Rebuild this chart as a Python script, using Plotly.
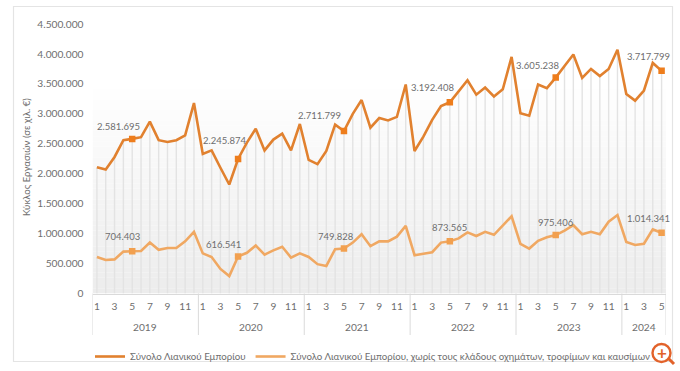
import plotly.graph_objects as go

W, H = 680, 371
FONT = "Lato"
TXT = "#6e6e6e"

years = [2019, 2020, 2021, 2022, 2023, 2024]
months_per_year = [12, 12, 12, 12, 12, 5]
categories = [f"{y}-{m}" for y, n in zip(years, months_per_year) for m in range(1, n + 1)]
month_labels = [c.split("-")[1] for c in categories]

total_retail = [
    2110000, 2070000, 2280000, 2560000, 2581695, 2610000, 2870000, 2560000, 2530000, 2560000, 2640000, 3180000,
    2330000, 2390000, 2100000, 1820000, 2245874, 2520000, 2750000, 2390000, 2570000, 2670000, 2390000, 2830000,
    2230000, 2160000, 2380000, 2820000, 2711799, 3000000, 3230000, 2770000, 2930000, 2890000, 2950000, 3490000,
    2380000, 2620000, 2900000, 3130000, 3192408, 3370000, 3560000, 3320000, 3440000, 3290000, 3410000, 3950000,
    3010000, 2970000, 3490000, 3430000, 3605238, 3800000, 3990000, 3600000, 3750000, 3630000, 3750000, 4070000,
    3330000, 3220000, 3390000, 3850000, 3717799,
]
core_retail = [
    610000, 560000, 570000, 700000, 704403, 710000, 850000, 730000, 760000, 760000, 870000, 1030000,
    670000, 610000, 410000, 290000, 616541, 680000, 800000, 650000, 720000, 780000, 600000, 670000,
    610000, 490000, 460000, 740000, 749828, 850000, 990000, 790000, 870000, 870000, 950000, 1130000,
    640000, 660000, 690000, 850000, 873565, 920000, 1020000, 960000, 1030000, 980000, 1130000, 1290000,
    830000, 750000, 880000, 940000, 975406, 1050000, 1140000, 990000, 1030000, 990000, 1200000, 1310000,
    860000, 810000, 830000, 1070000, 1014341,
]
highlight_idx = [4, 16, 28, 40, 52, 64]
total_offsets = [(-14, -12), (-13, -19), (-24, -16), (-17, -15), (-18, -12), (-13, -14)]
core_offsets = [(-10, -15), (-15, -12), (-8, -12), (0, -14), (0, -13), (-13, -14)]
y_ticks = [0, 500000, 1000000, 1500000, 2000000, 2500000, 3000000, 3500000, 4000000, 4500000]

C_TOTAL = "#E1812F"
C_CORE = "#F0A862"
C_TOTAL_M = "#EE7D1C"
C_CORE_M = "#F2A04F"
LABEL_SIZE = 9.5


def dotted(v):
    return f"{v:,}".replace(",", ".")


fig = go.Figure()
fig.add_trace(go.Scatter(
    x=categories, y=total_retail, mode="lines", name="Σύνολο Λιανικού Εμπορίου",
    line=dict(color=C_TOTAL, width=2.6),
    error_y=dict(type="data", symmetric=False, array=[0] * len(total_retail), arrayminus=total_retail,
                 color="#E3E3E3", thickness=1.4, width=0),
))
fig.add_trace(go.Scatter(
    x=categories, y=core_retail, mode="lines",
    name="Σύνολο Λιανικού Εμπορίου, χωρίς τους κλάδους οχημάτων, τροφίμων και καυσίμων",
    line=dict(color=C_CORE, width=2.6),
))
fig.add_trace(go.Scatter(
    x=[categories[i] for i in highlight_idx], y=[total_retail[i] for i in highlight_idx],
    mode="markers", showlegend=False, marker=dict(symbol="square", size=6.5, color=C_TOTAL_M),
))
fig.add_trace(go.Scatter(
    x=[categories[i] for i in highlight_idx], y=[core_retail[i] for i in highlight_idx],
    mode="markers", showlegend=False, marker=dict(symbol="square", size=6.5, color=C_CORE_M),
))

annotations = []
for series, offs in ((total_retail, total_offsets), (core_retail, core_offsets)):
    for i, (dx, dy) in zip(highlight_idx, offs):
        annotations.append(dict(
            x=categories[i], y=series[i], xref="x", yref="y", text=dotted(series[i]),
            showarrow=False, xshift=dx, yshift=-dy, font=dict(family=FONT, size=LABEL_SIZE, color=TXT),
        ))

# Year labels and dividers of the two-level axis
shapes = []
start = 0
PLOT_BOTTOM = 1 - 293.5 / H
Y_LABEL = 1 - 327 / H
for y, n in zip(years, months_per_year):
    annotations.append(dict(
        x=start + (n - 1) / 2, y=Y_LABEL, xref="x", yref="paper", text=str(y), showarrow=False,
        xanchor="center", yanchor="middle", font=dict(family=FONT, size=10.2, color=TXT),
    ))
    shapes.append(dict(type="line", xref="x", yref="paper", x0=start - 0.5, x1=start - 0.5,
                       y0=1 - 335 / H, y1=PLOT_BOTTOM, line=dict(color="#DADADA", width=1)))
    start += n
shapes.append(dict(type="line", xref="x", yref="paper", x0=start - 0.5, x1=start - 0.5,
                   y0=1 - 335 / H, y1=PLOT_BOTTOM, line=dict(color="#DADADA", width=1)))

# Plot background gradient
bands = 40
lo, hi = 0, 3500000
for b in range(bands):
    t = (b + 0.5) / bands
    g = int(round(236 + (255 - 236) * t))
    shapes.append(dict(type="rect", xref="x", yref="y", layer="below", x0=-0.5, x1=start - 0.5,
                       y0=lo + (hi - lo) * b / bands, y1=lo + (hi - lo) * (b + 1) / bands,
                       fillcolor=f"rgb({g},{g},{g})", line=dict(width=0)))

# Outer frame
shapes.append(dict(type="rect", xref="paper", yref="paper", x0=13.5 / W, x1=672.5 / W,
                   y0=1 - 361.5 / H, y1=1 - 6.5 / H, line=dict(color="#E4E4E4", width=1.2), layer="below"))

# Zoom badge
shapes.append(dict(type="line", xref="paper", yref="paper", x0=668 / W, x1=674 / W,
                   y0=1 - 358 / H, y1=1 - 364 / H, line=dict(color="#E2622A", width=3)))
shapes.append(dict(type="circle", xref="paper", yref="paper", x0=652.5 / W, x1=670.5 / W,
                   y0=1 - 362 / H, y1=1 - 344 / H, fillcolor="white", line=dict(color="#E2622A", width=2.4)))
annotations.append(dict(x=661.5 / W, y=1 - 352.5 / H, xref="paper", yref="paper", text="<b>+</b>", showarrow=False,
                        xanchor="center", yanchor="middle", font=dict(family=FONT, size=17, color="#E2622A")))

annotations.append(dict(
    x=27 / W, y=1 - 157 / H, xref="paper", yref="paper", text="Κύκλος Εργασιών (σε χιλ. €)",
    xanchor="center", yanchor="middle",
    textangle=-90, showarrow=False, font=dict(family=FONT, size=9.6, color=TXT),
))

fig.update_layout(
    width=W, height=H, margin=dict(l=0, r=0, t=0, b=0),
    paper_bgcolor="white", plot_bgcolor="white",
    font=dict(family=FONT, size=10.4, color=TXT),
    separators=",.",
    showlegend=True,
    legend=dict(orientation="h", x=90 / W, y=1 - 342 / H, xanchor="left", yanchor="top",
                bgcolor="rgba(0,0,0,0)", font=dict(family=FONT, size=9.7, color=TXT),
                itemwidth=30, tracegroupgap=0),
    annotations=annotations, shapes=shapes,
    xaxis=dict(
        domain=[92.5 / W, 666 / W], type="category", categoryorder="array", categoryarray=categories,
        range=[-0.5, len(categories) - 0.5],
        tickmode="array", tickvals=categories[::2], ticktext=month_labels[::2],
        showgrid=False, zeroline=False, showline=True, linecolor="#DADADA", linewidth=1,
        ticks="", ticklen=0, tickfont=dict(family=FONT, size=10.2, color=TXT), tickangle=0,
        ticklabelstandoff=3, automargin=False,
    ),
    yaxis=dict(
        domain=[1 - 293.5 / H, 1 - 24 / H], range=[0, 4500000],
        tickmode="array", tickvals=y_ticks, tickformat=",d",
        showgrid=False, zeroline=False, showline=False, ticks="",
        ticklabelstandoff=8, tickfont=dict(family=FONT, size=10.2, color=TXT), automargin=False,
    ),
)

fig.write_html("out.html", config={"displayModeBar": False}, post_script="document.body.style.margin='0';")
